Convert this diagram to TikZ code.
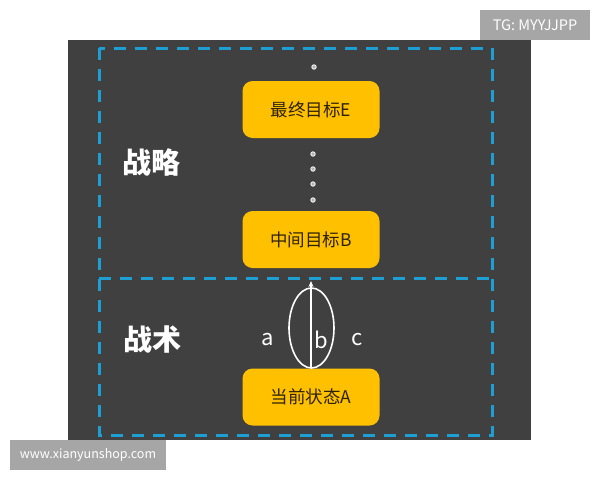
\documentclass[tikz,border=0pt]{standalone}
\usepackage{fontspec}
\setmainfont{Noto Sans CJK SC}
\usetikzlibrary{arrows.meta,shapes.geometric}
\definecolor{bg}{HTML}{404040}
\definecolor{dashblue}{HTML}{1E9FD3}
\definecolor{goldbox}{HTML}{FFC000}
\definecolor{boxtext}{HTML}{2E2300}
\definecolor{wmgray}{HTML}{A6A6A6}
\tikzset{
  dashline/.style={draw=dashblue, line width=3pt, dash pattern=on 12pt off 9pt},
  goal/.style={fill=goldbox, rounded corners=10pt, minimum width=137pt, minimum height=57pt, text=boxtext, font=\fontsize{17.5}{20}\selectfont, inner sep=0pt},
  title/.style={text=white, font=\bfseries\fontsize{29}{32}\selectfont, inner sep=0pt},
  lbl/.style={text=white, font=\fontsize{22}{24}\selectfont, inner sep=0pt},
  dotnode/.style={circle, draw=white, fill=white!60!bg, line width=0.8pt, minimum size=4.5pt, inner sep=0pt},
  ell/.style={ellipse, draw=white, line width=1.6pt, minimum width=45pt, minimum height=80pt, inner sep=0pt},
  arr/.style={draw=white, line width=1.4pt, -{Stealth[length=6pt,width=5pt]}},
  wm/.style={fill=wmgray, text=white, inner sep=0pt}
}
\begin{document}
\begin{tikzpicture}[x=1pt,y=-1pt]
\useasboundingbox (0,0) rectangle (600,480);
\fill[white] (0,0) rectangle (600,480);
\fill[bg] (68,40) rectangle (531,440);
\draw[dashline] (99,48) rectangle (492,435);
\draw[dashline] (99,278) -- (492,278);
\node[goal] (E) at (311,109.5) {最终目标E};
\node[goal] (B) at (311,239.5) {中间目标B};
\node[goal] (A) at (311,397) {当前状态A};
\node[dotnode] (d0) at (314,67) {};
\node[dotnode] (d1) at (313,154) {};
\node[dotnode] (d2) at (313,169) {};
\node[dotnode] (d3) at (313,184) {};
\node[dotnode] (d4) at (313,200) {};
\node[title] (T1) at (151,162) {战略};
\node[title] (T2) at (152,340) {战术};
\node[ell] (O) at (311.5,328) {};
\coordinate (tip) at (311,281);
\draw[arr] (A.north) -- (tip);
\node[lbl] (la) at (268,340) {a};
\node[lbl] (lb) at (321,340) {b};
\node[lbl] (lc) at (357,340) {c};
\node[wm, minimum width=110pt, minimum height=30pt, font=\fontsize{14.5}{16}\selectfont] (tg) at (535,25) {TG: MYYJJPP};
\node[wm, minimum width=156pt, minimum height=30pt, font=\fontsize{12.5}{14}\selectfont] (www) at (88,455) {www.xianyunshop.com};
\end{tikzpicture}
\end{document}
